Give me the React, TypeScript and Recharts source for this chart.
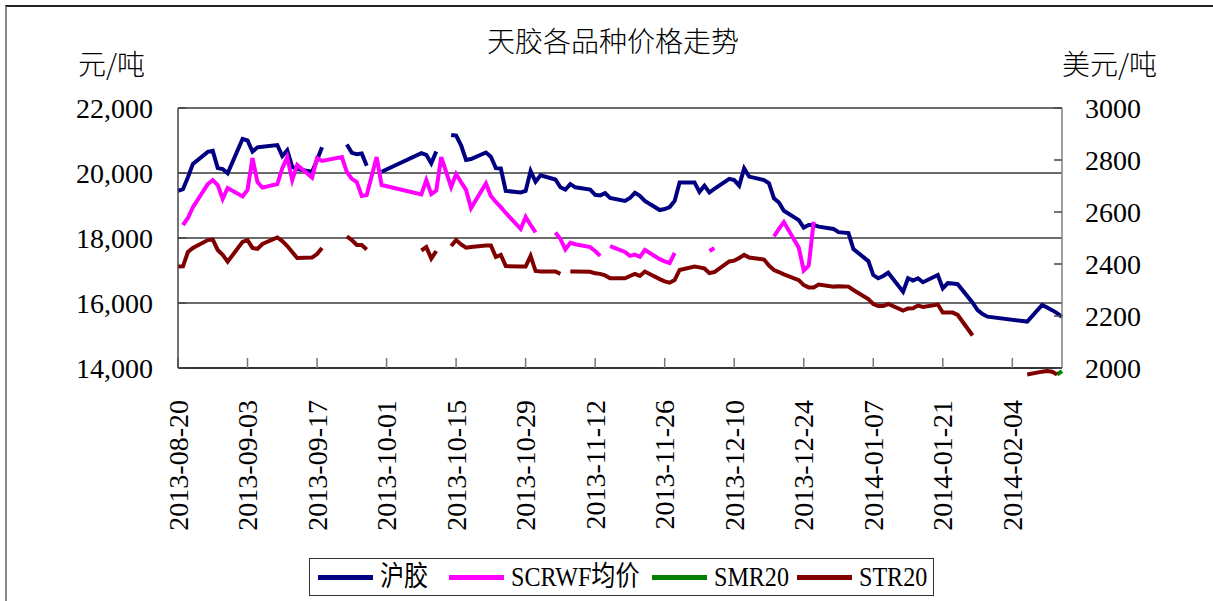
import React from 'react';
import { LineChart, Line, XAxis, YAxis, CartesianGrid, Legend } from 'recharts';

// ---- data ----
const tradeDates = [
  '2013-08-20', '2013-08-21', '2013-08-22', '2013-08-23',
  '2013-08-26', '2013-08-27', '2013-08-28', '2013-08-29', '2013-08-30',
  '2013-09-02', '2013-09-03', '2013-09-04', '2013-09-05', '2013-09-06',
  '2013-09-09', '2013-09-10', '2013-09-11', '2013-09-12', '2013-09-13',
  '2013-09-16', '2013-09-17', '2013-09-18', '2013-09-22',
  '2013-09-23', '2013-09-24', '2013-09-25', '2013-09-26', '2013-09-27', '2013-09-29',
  '2013-09-30', '2013-10-08', '2013-10-09', '2013-10-10', '2013-10-11', '2013-10-12',
  '2013-10-14', '2013-10-15', '2013-10-16', '2013-10-17', '2013-10-18',
  '2013-10-21', '2013-10-22', '2013-10-23', '2013-10-24', '2013-10-25',
  '2013-10-28', '2013-10-29', '2013-10-30', '2013-10-31', '2013-11-01',
  '2013-11-04', '2013-11-05', '2013-11-06', '2013-11-07', '2013-11-08',
  '2013-11-11', '2013-11-12', '2013-11-13', '2013-11-14', '2013-11-15',
  '2013-11-18', '2013-11-19', '2013-11-20', '2013-11-21', '2013-11-22',
  '2013-11-25', '2013-11-26', '2013-11-27', '2013-11-28', '2013-11-29',
  '2013-12-02', '2013-12-03', '2013-12-04', '2013-12-05', '2013-12-06',
  '2013-12-09', '2013-12-10', '2013-12-11', '2013-12-12', '2013-12-13',
  '2013-12-16', '2013-12-17', '2013-12-18', '2013-12-19', '2013-12-20',
  '2013-12-23', '2013-12-24', '2013-12-25', '2013-12-26', '2013-12-27',
  '2013-12-30', '2013-12-31', '2014-01-02', '2014-01-03',
  '2014-01-06', '2014-01-07', '2014-01-08', '2014-01-09', '2014-01-10',
  '2014-01-13', '2014-01-14', '2014-01-15', '2014-01-16', '2014-01-17',
  '2014-01-20', '2014-01-21', '2014-01-22', '2014-01-23', '2014-01-24',
  '2014-01-27', '2014-01-28', '2014-01-29', '2014-01-30',
  '2014-02-07',
  '2014-02-10', '2014-02-11', '2014-02-12', '2014-02-13', '2014-02-14',
];

// 沪胶 (元/吨)
const huValues: (number | null)[] = [
  19450, 19500, 19870, 20280,
  20650, 20680, 20150, 20120, 19990,
  21050, 21000, 20660, 20790, 20810,
  20860, 20520, 20700, 20190, 20120,
  20040, 20400, 20790, null,
  20880, 20620, 20580, 20600, 20220, null,
  20040, 20610, 20560, 20300, 20660, null,
  21170, 21150, 20850, 20400, 20430,
  20630, 20500, 20150, 20140, 19450,
  19400, 19450, 20060, 19730, 19930,
  19800, 19560, 19490, 19660, 19560,
  19490, 19330, 19310, 19380, 19230,
  19140, 19230, 19390, 19300, 19140,
  18860, 18890, 18950, 19140, 19710,
  19710, 19420, 19610, 19400, 19510,
  19820, 19780, 19610, 20140, 19890,
  19780, 19680, 19220, 19090, 18840,
  18550, 18320, 18400, 18400, 18350,
  18280, 18180, 18150, 17660,
  17290, 16860, 16760, 16830, 16930,
  16350, 16760, 16690, 16760, 16640,
  16860, 16450, 16610, 16600, 16580,
  16010, 15780, 15660, 15580,
  15430,
  15940, 15860, 15780, 15690, 15570,
];

// SCRWF均价 (元/吨)
const scrwfValues: (number | null)[] = [
  null, 18400, 18615, 18950,
  19660, 19780, 19630, 19200, 19540,
  19280, 19480, 20460, 19720, 19550,
  19660, 20150, 20490, 19780, 20250,
  19860, 20460, 20370, 20490,
  20030, 19820, 19720, 19290, 19320, 20490,
  19630, 19340, 19780, 19350, 19460, 20490,
  19570, 19970, 19720, 19480, 18920,
  19680, 19290, 19110, 18950, 18770,
  18280, 18650, 18400, 18170, null,
  18170, 17970, 17650, 17850, 17810,
  17720, 17600, 17450, null, 17750,
  17570, 17450, 17490, 17420, 17630,
  17350, 17280, 17230, 17540, null,
  null, null, null, 17600, 17690,
  null, null, null, null, null,
  null, null, 18050, 18280, 18490,
  17700, 17000, 17150, 18500, null,
  null, null, null, null,
  null, null, null, null, null,
  null, null, null, null, null,
  null, null, null, null, null,
  null, null, null, null,
  null,
  null, null, null, null, null,
];

// SMR20 (美元/吨)
const smrValues: (number | null)[] = [
  null, null, null, null,
  null, null, null, null, null,
  null, null, null, null, null,
  null, null, null, null, null,
  null, null, null, null,
  null, null, null, null, null, null,
  null, null, null, null, null, null,
  null, null, null, null, null,
  null, null, null, null, null,
  null, null, null, null, null,
  null, null, null, null, null,
  null, null, null, null, null,
  null, null, null, null, null,
  null, null, null, null, null,
  null, null, null, null, null,
  null, null, null, null, null,
  null, null, null, null, null,
  null, null, null, null, null,
  null, null, null, null,
  null, null, null, null, null,
  null, null, null, null, null,
  null, null, null, null, null,
  null, null, null, null,
  null,
  null, null, null, 1975, 1988,
];

// STR20 (美元/吨)
const strValues: (number | null)[] = [
  2390, 2391, 2446, 2462,
  2492, 2494, 2454, 2435, 2409,
  2485, 2492, 2462, 2458, 2477,
  2502, 2488, 2469, 2446, 2423,
  2425, 2438, 2462, null,
  2506, 2492, 2473, 2473, 2456, null,
  null, 2452, 2465, 2421, 2450, null,
  2469, 2492, 2475, 2463, 2465,
  2471, 2471, 2427, 2435, 2392,
  2390, 2390, 2431, 2373, 2371,
  2371, 2362, null, 2371, 2371,
  2370, 2364, 2362, 2356, 2345,
  2345, 2354, 2362, 2354, 2371,
  2342, 2333, 2328, 2338, 2377,
  2390, 2387, 2383, 2365, 2369,
  2410, 2413, 2423, 2435, 2425,
  2417, 2394, 2377, 2369, 2360,
  2338, 2319, 2310, 2310, 2321,
  2313, 2314, 2313, 2300,
  2265, 2246, 2238, 2238, 2246,
  2221, 2229, 2230, 2240, 2235,
  2244, 2213, 2213, 2213, 2204,
  2125, null, null, null,
  1975,
  1986, 1988, 1986, 1975, null,
];

const xTickDates = [
  '2013-08-20', '2013-09-03', '2013-09-17', '2013-10-01', '2013-10-15',
  '2013-10-29', '2013-11-12', '2013-11-26', '2013-12-10', '2013-12-24',
  '2014-01-07', '2014-01-21', '2014-02-04',
];
const axisStartDate = '2013-08-20';
const axisEndDate = '2014-02-14';
const leftTicks = [14000, 16000, 18000, 20000, 22000];
const rightTicks = [2000, 2200, 2400, 2600, 2800, 3000];

const seriesNames = ['沪胶', 'SCRWF均价', 'SMR20', 'STR20'];
const seriesColors = ['#000080', '#FF00FF', '#008000', '#800000'];

// ---- helpers ----
const DAY = 86400000;
const toUTC = (s: string) => {
  const [y, m, d] = s.split('-').map(Number);
  return Date.UTC(y, m - 1, d);
};
const startMs = toUTC(axisStartDate);
const dayOf = (s: string) => Math.round((toUTC(s) - startMs) / DAY);
const dateOf = (n: number) => new Date(startMs + n * DAY).toISOString().slice(0, 10);

const data = tradeDates.map((d, i) => ({
  day: dayOf(d),
  hu: huValues[i],
  scrwf: scrwfValues[i],
  smr: smrValues[i],
  str: strValues[i],
}));

const xTicks = xTickDates.map(dayOf);
const serif = "'Liberation Serif', 'Times New Roman', serif";
const cjk = "'Noto Sans CJK SC', sans-serif";

const XTick = (props: any) => {
  const { x, y, payload } = props;
  const ty = y + 8;
  return (
    <text
      x={x}
      y={ty}
      transform={`rotate(-90, ${x}, ${ty})`}
      textAnchor="end"
      dy="0.34em"
      fontFamily={serif}
      fontSize={28}
      fill="#000"
    >
      {dateOf(payload.value)}
    </text>
  );
};

const legendLeft = [8, 139, 342, 487];

const renderLegend = (props: any) => {
  const payload = [...(props.payload || [])].sort(
    (a: any, b: any) => seriesNames.indexOf(a.value) - seriesNames.indexOf(b.value)
  );
  return (
    <div
      style={{
        position: 'relative',
        width: '100%',
        height: '100%',
        boxSizing: 'border-box',
        border: '1px solid #333',
      }}
    >
      {payload.map((p: any, i: number) => (
        <div
          key={i}
          style={{
            position: 'absolute',
            left: legendLeft[i],
            top: 0,
            height: '100%',
            display: 'flex',
            alignItems: 'center',
            whiteSpace: 'nowrap',
          }}
        >
          <span style={{ display: 'inline-block', width: 55, height: 5, background: p.color }} />
          <span
            style={{
              display: 'inline-block',
              marginLeft: 7,
              fontFamily: `${serif}, ${cjk}`,
              fontSize: 28,
              color: '#000',
              lineHeight: 1,
              transform: 'scaleX(0.86)',
              transformOrigin: 'left center',
            }}
          >
            {p.value}
          </span>
        </div>
      ))}
    </div>
  );
};

const lineCommon = {
  strokeWidth: 4,
  dot: false,
  activeDot: false,
  connectNulls: false,
  isAnimationActive: false,
  type: 'linear' as const,
};

export default function App() {
  return (
    <div style={{ position: 'absolute', left: 0, top: 0, width: 1213, height: 601, background: '#fff' }}>
      <style>{`.no-clip, .no-clip * { clip-path: none !important; }`}</style>
      <LineChart
        width={1213}
        height={601}
        data={data}
        margin={{ top: 108, right: 0, bottom: 0, left: 0 }}
      >
        <CartesianGrid yAxisId="left" vertical={false} stroke="#3a3a3a" strokeWidth={1.3} />
        <XAxis
          dataKey="day"
          type="number"
          domain={[0, dayOf(axisEndDate)]}
          ticks={xTicks}
          height={233}
          tickSize={-10}
          tickMargin={34}
          tick={<XTick />}
          axisLine={{ stroke: '#222', strokeWidth: 1.5 }}
          tickLine={{ stroke: '#777', strokeWidth: 1.5 }}
          interval={0}
        />
        <YAxis
          yAxisId="left"
          orientation="left"
          domain={[14000, 22000]}
          ticks={leftTicks}
          allowDataOverflow
          width={178}
          tickSize={-8}
          tickMargin={33}
          tickFormatter={(v: number) => v.toLocaleString('en-US')}
          tick={{ fontFamily: serif, fontSize: 28, fill: '#000' }}
          axisLine={{ stroke: '#444', strokeWidth: 1.5 }}
          tickLine={{ stroke: '#444', strokeWidth: 1.5 }}
          interval={0}
        />
        <YAxis
          yAxisId="right"
          orientation="right"
          domain={[2000, 3000]}
          ticks={rightTicks}
          allowDataOverflow
          width={151}
          tickSize={-8}
          tickMargin={31}
          tick={{ fontFamily: serif, fontSize: 28, fill: '#000' }}
          axisLine={{ stroke: '#808080', strokeWidth: 1.5 }}
          tickLine={{ stroke: '#444', strokeWidth: 1.5 }}
          interval={0}
        />
        <Line yAxisId="left" dataKey="hu" name={seriesNames[0]} stroke={seriesColors[0]} {...lineCommon} />
        <Line yAxisId="left" dataKey="scrwf" name={seriesNames[1]} stroke={seriesColors[1]} {...lineCommon} />
        <Line
          yAxisId="right"
          dataKey="smr"
          name={seriesNames[2]}
          stroke={seriesColors[2]}
          className="no-clip"
          {...lineCommon}
        />
        <Line
          yAxisId="right"
          dataKey="str"
          name={seriesNames[3]}
          stroke={seriesColors[3]}
          className="no-clip"
          {...lineCommon}
        />
        <Legend
          layout="horizontal"
          verticalAlign="middle"
          align="center"
          itemSorter={(item: any) => seriesNames.indexOf(item.value)}
          content={renderLegend}
          wrapperStyle={{ left: 309, top: 558, width: 625, height: 38 }}
        />
      </LineChart>
      <div
        style={{
          position: 'absolute',
          left: 0,
          top: 24,
          width: 1226,
          textAlign: 'center',
          fontFamily: cjk,
          fontSize: 28,
          lineHeight: '32px',
          fontWeight: 300,
          color: '#000',
        }}
      >
        天胶各品种价格走势
      </div>
      <div
        style={{
          position: 'absolute',
          left: 78,
          top: 47,
          fontFamily: cjk,
          fontSize: 28,
          lineHeight: '32px',
          fontWeight: 300,
          color: '#000',
          whiteSpace: 'nowrap',
        }}
      >
        元/吨
      </div>
      <div
        style={{
          position: 'absolute',
          left: 1062,
          top: 47,
          fontFamily: cjk,
          fontSize: 28,
          lineHeight: '32px',
          fontWeight: 300,
          color: '#000',
          whiteSpace: 'nowrap',
        }}
      >
        美元/吨
      </div>
      <div
        style={{
          position: 'absolute',
          left: 5,
          top: 5,
          width: 1208,
          height: 596,
          boxSizing: 'border-box',
          borderTop: '2px solid #222',
          borderLeft: '2px solid #888',
          pointerEvents: 'none',
        }}
      />
    </div>
  );
}
